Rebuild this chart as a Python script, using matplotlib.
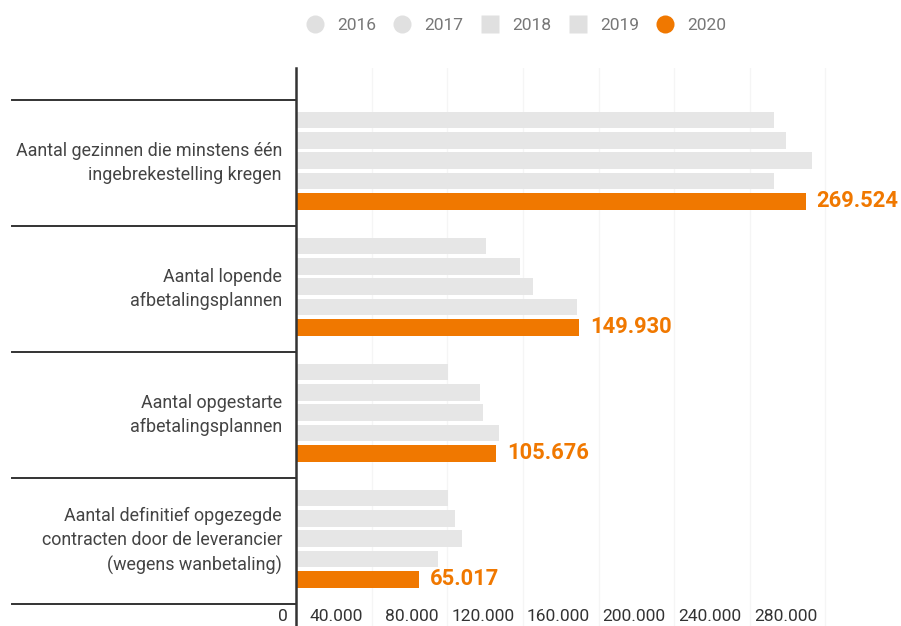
import matplotlib
matplotlib.use("Agg")
import matplotlib.pyplot as plt
import matplotlib.transforms as mtransforms
from matplotlib.lines import Line2D

plt.rcParams["font.family"] = ["Roboto", "DejaVu Sans"]

categories = [
    "Aantal gezinnen die minstens één\ningebrekestelling kregen",
    "Aantal lopende\nafbetalingsplannen",
    "Aantal opgestarte\nafbetalingsplannen",
    "Aantal definitief opgezegde\ncontracten door de leverancier\n(wegens wanbetaling)",
]
years = ["2016", "2017", "2018", "2019", "2020"]
values = {
    "2016": [253000, 100500, 80500, 80500],
    "2017": [259000, 118500, 97500, 84000],
    "2018": [273000, 125500, 99000, 88000],
    "2019": [253000, 148500, 107500, 75000],
    "2020": [269524, 149930, 105676, 65017],
}
labels_2020 = ["269.524", "149.930", "105.676", "65.017"]
xticks = [0, 40000, 80000, 120000, 160000, 200000, 240000, 280000]
xtick_labels = ["0", "40.000", "80.000", "120.000", "160.000", "200.000", "240.000", "280.000"]

GREY = "#e6e6e6"
ORANGE = "#f07800"
colors = [GREY, GREY, GREY, GREY, ORANGE]
markers = ["o", "o", "s", "s", "o"]

fig = plt.figure(figsize=(9.01, 6.26), dpi=100)
ax = fig.add_axes([296 / 901, 0, 605 / 901, 558 / 626])

bar_h = 0.131
step = 0.1615
for j, yr in enumerate(years):
    ys = [i + 0.159 + j * step for i in range(len(categories))]
    ax.barh(ys, values[yr], height=bar_h, color=colors[j], zorder=2)

# value labels for 2020
for i, (v, lab) in enumerate(zip(values["2020"], labels_2020)):
    ax.annotate(lab, (v, i + 0.159 + 4 * step), xytext=(8, 0),
                textcoords="offset points", ha="left", va="center",
                color=ORANGE, fontsize=15.8, fontweight="bold")

ax.set_xlim(0, 320000)
ax.set_ylim(4.175, -0.254)

# faint gridlines
for t in xticks[1:]:
    ax.axvline(t, color="#f5f5f5", lw=1, zorder=0)

# tick labels, right aligned just left of each gridline
ax.set_xticks([])
ax.set_yticks([])
for t, lab in zip(xticks, xtick_labels):
    ax.annotate(lab, (t, 0), xycoords=("data", "axes fraction"),
                xytext=(-6, 1.5), textcoords="offset points",
                ha="right", va="bottom", fontsize=12.5, color="#333333")

# category separator lines and labels
sep = mtransforms.blended_transform_factory(ax.transAxes, ax.transData)
for b in range(len(categories) + 1):
    ax.plot([-284 / 605, 0], [b, b], transform=sep, color="#333333",
            lw=1.4, clip_on=False)
for i, cat in enumerate(categories):
    ax.text(-14 / 605, i + 0.5, cat, transform=sep, ha="right", va="center",
            fontsize=12.9, color="#444444", linespacing=1.45)

for s in ["top", "right", "bottom"]:
    ax.spines[s].set_visible(False)
ax.spines["left"].set_color("#333333")
ax.spines["left"].set_linewidth(1.8)

handles = [Line2D([], [], marker=m, ls="none", markersize=13,
                  markerfacecolor=c if c == ORANGE else "#e0e0e0",
                  markeredgecolor="none") for m, c in zip(markers, colors)]
fig.legend(handles, years, loc="center", bbox_to_anchor=(0.573, 1 - 25 / 626),
           ncol=5, frameon=False, fontsize=12.5, labelcolor="#777777",
           handlelength=1.0, handletextpad=0.8, columnspacing=1.0)

fig.savefig("out.png", dpi=100)
